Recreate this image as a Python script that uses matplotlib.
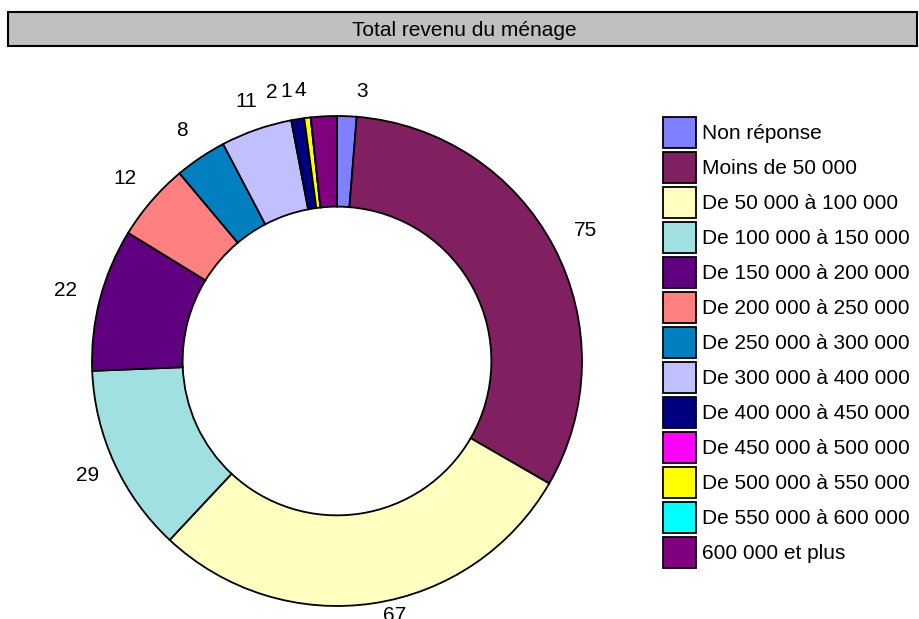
import numpy as np
import matplotlib
matplotlib.use("Agg")
import matplotlib.pyplot as plt
from matplotlib.patches import Rectangle
from matplotlib.transforms import offset_copy

plt.rcParams['font.family'] = ['Liberation Sans', 'DejaVu Sans']

title = "Total revenu du ménage"
categories = ["Non réponse", "Moins de 50 000", "De 50 000 à 100 000",
              "De 100 000 à 150 000", "De 150 000 à 200 000", "De 200 000 à 250 000",
              "De 250 000 à 300 000", "De 300 000 à 400 000", "De 400 000 à 450 000",
              "De 450 000 à 500 000", "De 500 000 à 550 000", "De 550 000 à 600 000",
              "600 000 et plus"]
values = [3, 75, 67, 29, 22, 12, 8, 11, 2, 0, 1, 0, 4]
colors = ["#8080FF", "#802060", "#FFFFC0", "#A0E0E0", "#600080", "#FF8080",
          "#0080C0", "#C0C0FF", "#000080", "#FF00FF", "#FFFF00", "#00FFFF", "#800080"]
# horizontal nudges (pixels) for label placement
label_nudge = {0: 14, 2: 20, 8: -22, 10: -18, 12: -22}

W, H = 919, 619
fig = plt.figure(figsize=(W / 100, H / 100), dpi=100)

# title box
fig.patches.append(Rectangle((8 / W, 1 - 46 / H), 909 / W, 34 / H, transform=fig.transFigure,
                             facecolor="#C0C0C0", edgecolor="black", linewidth=1.5))
fig.text(464 / W, 1 - 30 / H, title, ha="center", va="center", fontsize=15)

cx, cy, R = 337, 361, 245
ax = fig.add_axes([(cx - R) / W, (H - cy - R) / H, 2 * R / W, 2 * R / H])
wedges, _ = ax.pie(values, colors=colors, startangle=90, counterclock=False, radius=1.0,
                   wedgeprops=dict(width=0.37, edgecolor="black", linewidth=1.3))
ax.set_xlim(-1, 1)
ax.set_ylim(-1, 1)
ax.set_aspect("equal")
ax.axis("off")

total = sum(values)
start = 90.0
for i, v in enumerate(values):
    span = v / total * 360
    mid = np.deg2rad(start - span / 2)
    start -= span
    if v == 0:
        continue
    r = 1.07 + 0.07 * abs(np.cos(mid)) + 0.03 * np.sin(mid)
    tr = offset_copy(ax.transData, fig=fig, x=label_nudge.get(i, 0) * 0.72, y=0, units="points")
    ax.text(r * np.cos(mid), r * np.sin(mid), str(v), ha="center", va="center",
            fontsize=15, clip_on=False, transform=tr)

fs = 15
fpx = fs * 100 / 72
hh = (31 * 0.72 / fs - 0.245) / 0.65
leg = fig.legend(wedges, categories, loc="upper left",
                 bbox_to_anchor=(663 / W, 1 - 117 / H), borderaxespad=0, borderpad=0,
                 frameon=False, fontsize=fs,
                 handlelength=33 / fpx, handleheight=hh,
                 labelspacing=4 / fpx, handletextpad=6 / fpx)

fig.savefig("out.png", dpi=100)
